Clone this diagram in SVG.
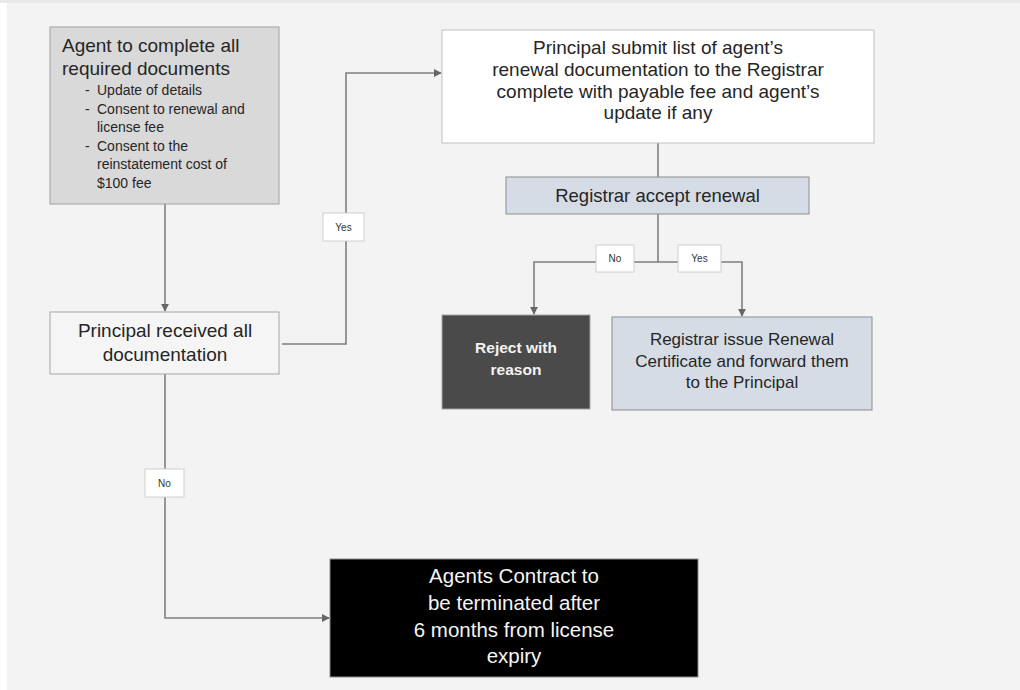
<svg xmlns="http://www.w3.org/2000/svg" width="1020" height="690" viewBox="0 0 1020 690">
  <style>
    text { font-family: "Liberation Sans", Arial, sans-serif; }
    .t19 { font-size: 19px; fill: #262626; }
    .t14 { font-size: 14px; fill: #262626; }
    .t17 { font-size: 17px; fill: #262626; }
    .lbl { font-size: 10px; fill: #333333; text-anchor: middle; }
    .lblbox { fill: #ffffff; stroke: #d0d0d0; stroke-width: 1; }
    .conn { fill: none; stroke: #7f7f7f; stroke-width: 1.6; }
    .mid { text-anchor: middle; }
  </style>
  <defs>
    <marker id="arrow" viewBox="0 0 10 10" refX="9" refY="5" markerWidth="8" markerHeight="8" markerUnits="userSpaceOnUse" orient="auto">
      <path d="M0,0 L10,5 L0,10 z" fill="#666666"/>
    </marker>
  </defs>

  <!-- background -->
  <rect x="0" y="0" width="1020" height="690" fill="#ffffff"/>
  <rect x="0" y="0" width="1020" height="3" fill="#e8e8e8"/>
  <rect x="7" y="3" width="1013" height="687" fill="#f3f3f3"/>

  <!-- connectors -->
  <g id="connectors">
    <path class="conn" d="M165,204 L165,311" marker-end="url(#arrow)"/>
    <path class="conn" d="M282,344 L346,344 L346,73 L441,73" marker-end="url(#arrow)"/>
    <path class="conn" d="M658,143 L658,177"/>
    <path class="conn" d="M658,214 L658,262"/>
    <path class="conn" d="M658,262 L534,262 L534,314" marker-end="url(#arrow)"/>
    <path class="conn" d="M658,262 L742,262 L742,316" marker-end="url(#arrow)"/>
    <path class="conn" d="M165,374 L165,618 L329,618" marker-end="url(#arrow)"/>
    <g id="label-yes-1">
      <rect class="lblbox" x="323" y="213" width="41" height="28"/>
      <text class="lbl" x="343.5" y="230.5">Yes</text>
    </g>
    <g id="label-no-1">
      <rect class="lblbox" x="596" y="245" width="38" height="27"/>
      <text class="lbl" x="615" y="262">No</text>
    </g>
    <g id="label-yes-2">
      <rect class="lblbox" x="678" y="245" width="43" height="27"/>
      <text class="lbl" x="699.5" y="262">Yes</text>
    </g>
    <g id="label-no-2">
      <rect class="lblbox" x="145" y="469" width="39" height="28"/>
      <text class="lbl" x="164.5" y="486.5">No</text>
    </g>
  </g>

  <!-- nodes -->
  <g id="agent-docs">
    <rect x="50" y="27" width="229" height="177" fill="#d9d9d9" stroke="#a0a0a0" stroke-width="1"/>
    <text class="t19" x="62" y="52">Agent to complete all</text>
    <text class="t19" x="62" y="75">required documents</text>
    <text class="t14" x="85" y="95">-</text>
    <text class="t14" x="97" y="95">Update of details</text>
    <text class="t14" x="85" y="114">-</text>
    <text class="t14" x="97" y="114">Consent to renewal and</text>
    <text class="t14" x="97" y="132">license fee</text>
    <text class="t14" x="85" y="151">-</text>
    <text class="t14" x="97" y="151">Consent to the</text>
    <text class="t14" x="97" y="169">reinstatement cost of</text>
    <text class="t14" x="97" y="188">$100 fee</text>
  </g>

  <g id="principal-received">
    <rect x="50" y="312" width="229" height="62" fill="#f5f5f5" stroke="#a6a6a6" stroke-width="1"/>
    <text class="t19 mid" x="165" y="337">Principal received all</text>
    <text class="t19 mid" x="165" y="361">documentation</text>
  </g>

  <g id="principal-submit">
    <rect x="442" y="30" width="432" height="113" fill="#ffffff" stroke="#bfbfbf" stroke-width="1"/>
    <text class="t19 mid" x="658" y="54">Principal submit list of agent’s</text>
    <text class="t19 mid" x="658" y="76">renewal documentation to the Registrar</text>
    <text class="t19 mid" x="658" y="97.5">complete with payable fee and agent’s</text>
    <text class="t19 mid" x="658" y="119">update if any</text>
  </g>

  <g id="registrar-accept">
    <rect x="506" y="177" width="303" height="37" fill="#d6dce5" stroke="#8c8c8c" stroke-width="1"/>
    <text class="t19 mid" x="657.5" y="201.5" style="font-size:18.5px">Registrar accept renewal</text>
  </g>

  <g id="reject">
    <rect x="442" y="315" width="148" height="94" fill="#4a4a4a" stroke="#a6a6a6" stroke-width="1"/>
    <text class="mid" x="516" y="353" style="font-size:15.5px;font-weight:bold;fill:#f2f2f2">Reject with</text>
    <text class="mid" x="516" y="375" style="font-size:15.5px;font-weight:bold;fill:#f2f2f2">reason</text>
  </g>

  <g id="registrar-issue">
    <rect x="612" y="317" width="260" height="93" fill="#d6dce5" stroke="#8c8c8c" stroke-width="1"/>
    <text class="t17 mid" x="742" y="345">Registrar issue Renewal</text>
    <text class="t17 mid" x="742" y="366.5">Certificate and forward them</text>
    <text class="t17 mid" x="742" y="388">to the Principal</text>
  </g>

  <g id="terminate">
    <rect x="330" y="559" width="368" height="118" fill="#000000" stroke="#8c8c8c" stroke-width="1"/>
    <text class="mid" x="514" y="583" style="font-size:20.5px;fill:#f5f5f5">Agents Contract to</text>
    <text class="mid" x="514" y="610" style="font-size:20.5px;fill:#f5f5f5">be terminated after</text>
    <text class="mid" x="514" y="637" style="font-size:20.5px;fill:#f5f5f5">6 months from license</text>
    <text class="mid" x="514" y="663" style="font-size:20.5px;fill:#f5f5f5">expiry</text>
  </g>
</svg>
